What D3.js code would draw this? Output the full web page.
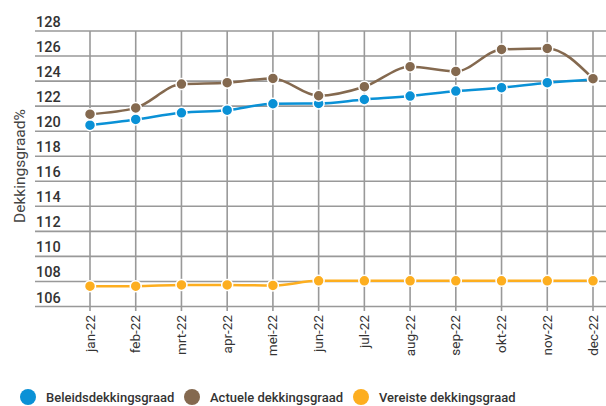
<!DOCTYPE html>
<html><head><meta charset="utf-8">
<script src="https://cdn.jsdelivr.net/npm/d3@7"></script>
<style>
html,body{margin:0;padding:0;background:#fff;}
svg{display:block;font-family:Roboto, sans-serif;}
</style></head>
<body><svg id="c" width="606" height="406"></svg>
<script>
const months = ["jan-22","feb-22","mrt-22","apr-22","mei-22","jun-22","jul-22","aug-22","sep-22","okt-22","nov-22","dec-22"];
const beleids = [120.48,120.94,121.47,121.68,122.19,122.21,122.53,122.8,123.2,123.47,123.87,124.13];
const actueel = [121.36,121.86,123.76,123.87,124.21,122.83,123.55,125.15,124.77,126.53,126.61,124.19];
const vereist = [107.62,107.62,107.72,107.72,107.68,108.05,108.05,108.05,108.05,108.05,108.05,108.05];
const yTicks = [106,108,110,112,114,116,118,120,122,124,126,128];
const seriesNames = ["Beleidsdekkingsgraad","Actuele dekkingsgraad","Vereiste dekkingsgraad"];
const colors = ["#0a91d6","#84694f","#fdae1f"];

const svg = d3.select("#c");
const x = d3.scalePoint().domain(months).range([90,593]);
const y = d3.scaleLinear().domain([106,128]).range([306.5,31]);

// horizontal grid + labels
const gy = svg.append("g");
yTicks.forEach(t=>{
  gy.append("line").attr("x1",35).attr("x2",606).attr("y1",y(t)).attr("y2",y(t))
    .attr("stroke","#999").attr("stroke-width",1.6);
  gy.append("text").attr("x",36).attr("y",y(t)-4).text(t)
    .attr("font-size",14.5).attr("font-weight",500).attr("fill","#333");
});
// vertical grid + x labels
const gx = svg.append("g");
months.forEach(m=>{
  gx.append("line").attr("x1",x(m)).attr("x2",x(m)).attr("y1",31).attr("y2",311)
    .attr("stroke","#999").attr("stroke-width",1.6);
  gx.append("text").attr("transform",`translate(${x(m)+4.5},315) rotate(-90)`)
    .attr("text-anchor","end").text(m).attr("font-size",13.5).attr("fill","#333");
});
// y title
svg.append("text").attr("transform","translate(25,166) rotate(-90)")
  .attr("text-anchor","middle").text("Dekkingsgraad%")
  .attr("font-size",15.5).attr("fill","#444");

const data = [beleids, actueel, vereist];
const line = d3.line().x((d,i)=>x(months[i])).y(d=>y(d)).curve(d3.curveMonotoneX);
[2,0,1].forEach(k=>{
  const g = svg.append("g");
  g.append("path").attr("d",line(data[k])).attr("fill","none")
    .attr("stroke",colors[k]).attr("stroke-width",2.5);
  g.selectAll("circle").data(data[k]).join("circle")
    .attr("cx",(d,i)=>x(months[i])).attr("cy",d=>y(d)).attr("r",5.5)
    .attr("fill",colors[k]).attr("stroke","#fff").attr("stroke-width",1.5);
});

// legend
const legX = [28,192,361];
seriesNames.forEach((n,i)=>{
  svg.append("circle").attr("cx",legX[i]).attr("cy",397).attr("r",8).attr("fill",colors[i]);
  svg.append("text").attr("x",legX[i]+18).attr("y",402).text(n)
    .attr("font-size",13).attr("font-weight",500).attr("fill","#333");
});
</script></body></html>
